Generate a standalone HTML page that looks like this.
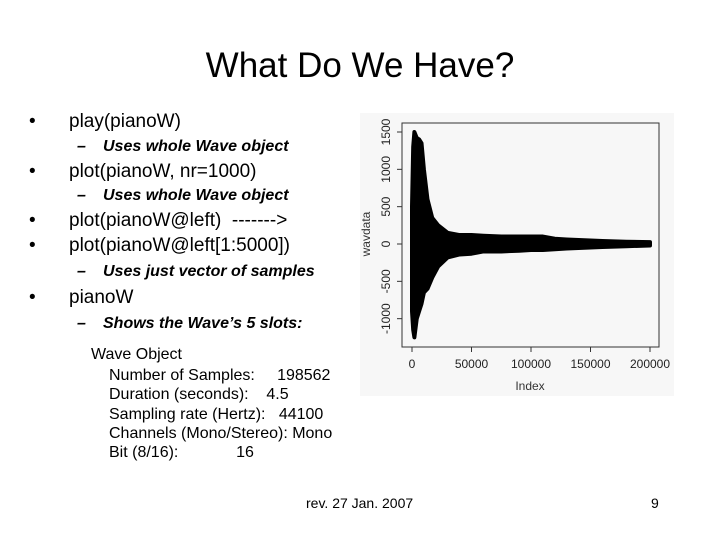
<!DOCTYPE html>
<html><head><meta charset="utf-8"><style>
body{margin:0;width:720px;height:540px;background:#fff;position:relative;overflow:hidden;font-family:"Liberation Sans",sans-serif;color:#000}
.t{position:absolute;white-space:pre;line-height:1}
.b{font-size:19px}
.s{font-size:16px;font-style:italic;font-weight:bold}
.m{font-size:16px}
</style></head><body>
<div class="t" style="left:0;width:720px;text-align:center;top:48px;font-size:35px">What Do We Have?</div>
<div class="t b" style="left:29px;top:112px">•</div>
<div class="t b" style="left:69px;top:112px">play(pianoW)</div>
<div class="t s" style="left:77px;top:139px">–</div>
<div class="t s" style="left:103px;top:139px">Uses whole Wave object</div>
<div class="t b" style="left:29px;top:162px">•</div>
<div class="t b" style="left:69px;top:162px">plot(pianoW, nr=1000)</div>
<div class="t s" style="left:77px;top:188px">–</div>
<div class="t s" style="left:103px;top:188px">Uses whole Wave object</div>
<div class="t b" style="left:29px;top:211px">•</div>
<div class="t b" style="left:69px;top:211px">plot(pianoW@left)  -------&gt;</div>
<div class="t b" style="left:29px;top:236px">•</div>
<div class="t b" style="left:69px;top:236px">plot(pianoW@left[1:5000])</div>
<div class="t s" style="left:77px;top:264px">–</div>
<div class="t s" style="left:103px;top:264px">Uses just vector of samples</div>
<div class="t b" style="left:29px;top:288px">•</div>
<div class="t b" style="left:69px;top:288px">pianoW</div>
<div class="t s" style="left:77px;top:316px">–</div>
<div class="t s" style="left:103px;top:316px">Shows the Wave’s 5 slots:</div>
<div class="t m" style="left:91px;top:347px">Wave Object</div>
<div class="t m" style="left:109px;top:366px;line-height:19.3px">Number of Samples:     198562
Duration (seconds):    4.5
Sampling rate (Hertz):   44100
Channels (Mono/Stereo): Mono
Bit (8/16):             16</div>
<div class="t" style="left:306px;top:496px;font-size:14px">rev. 27 Jan. 2007</div>
<div class="t" style="left:651px;top:496px;font-size:14px">9</div>
<svg style="position:absolute;left:0;top:0" width="720" height="540" id="svg"></svg>
<script>
const idx=[0,1000,2000,4000,6000,8000,10000,13000,17000,22000,30000,40000,50000,60000,75000,90000,100000,110000,120000,130000,145000,160000,180000,200000];
const upper=[500,1300,1500,1420,1400,1350,1000,600,350,250,150,120,120,110,100,100,100,100,70,60,50,40,30,25];
const lower=[-900,-1150,-1250,-1000,-900,-800,-650,-600,-450,-300,-180,-140,-130,-100,-100,-90,-80,-80,-70,-60,-50,-40,-30,-20];
const xTicks=[0,50000,100000,150000,200000];
const xLabels=["0","50000","100000","150000","200000"];
const yTicks=[-1000,-500,0,500,1000,1500];
const yLabels=["-1000","-500","0","500","1000","1500"];
const NS="http://www.w3.org/2000/svg",svg=document.getElementById('svg');
const X=v=>412+v*(238/200000), Y=v=>244-v*(112/1500);
function mk(t,a,p){const e=document.createElementNS(NS,t);for(const k in a)e.setAttribute(k,a[k]);(p||svg).appendChild(e);return e;}
const bg=mk('rect',{x:360,y:113,width:314,height:283,fill:'#f7f7f7'});


let pts=idx.map((v,i)=>X(v)+','+Y(upper[i]));
pts=pts.concat(idx.map((v,i)=>X(v)+','+Y(lower[i])).reverse());
const env=mk('polygon',{points:pts.join(' '),fill:'#000',stroke:'#000','stroke-width':4,'stroke-linejoin':'round'});


const box=mk('rect',{x:402,y:123,width:257,height:224,fill:'none',stroke:'#333','stroke-width':1});


xTicks.forEach((v,i)=>{mk('line',{x1:X(v),x2:X(v),y1:347,y2:352,stroke:'#333'});
const t=mk('text',{x:X(v),y:368,'text-anchor':'middle','font-size':12,fill:'#222','font-family':'Liberation Sans, sans-serif'});t.textContent=xLabels[i];

});
yTicks.forEach((v,i)=>{mk('line',{x1:397,x2:402,y1:Y(v),y2:Y(v),stroke:'#333'});
const t=mk('text',{x:390,y:Y(v),'text-anchor':'middle','font-size':12,fill:'#222','font-family':'Liberation Sans, sans-serif',transform:`rotate(-90 390 ${Y(v)})`});t.textContent=yLabels[i];

});
const xt=mk('text',{x:530,y:390,'text-anchor':'middle','font-size':12,fill:'#333','font-family':'Liberation Sans, sans-serif'});xt.textContent='Index';


const yt=mk('text',{x:370,y:234,'text-anchor':'middle','font-size':12,fill:'#333','font-family':'Liberation Sans, sans-serif',transform:'rotate(-90 370 234)'});yt.textContent='wavdata';


</script>
</body></html>
